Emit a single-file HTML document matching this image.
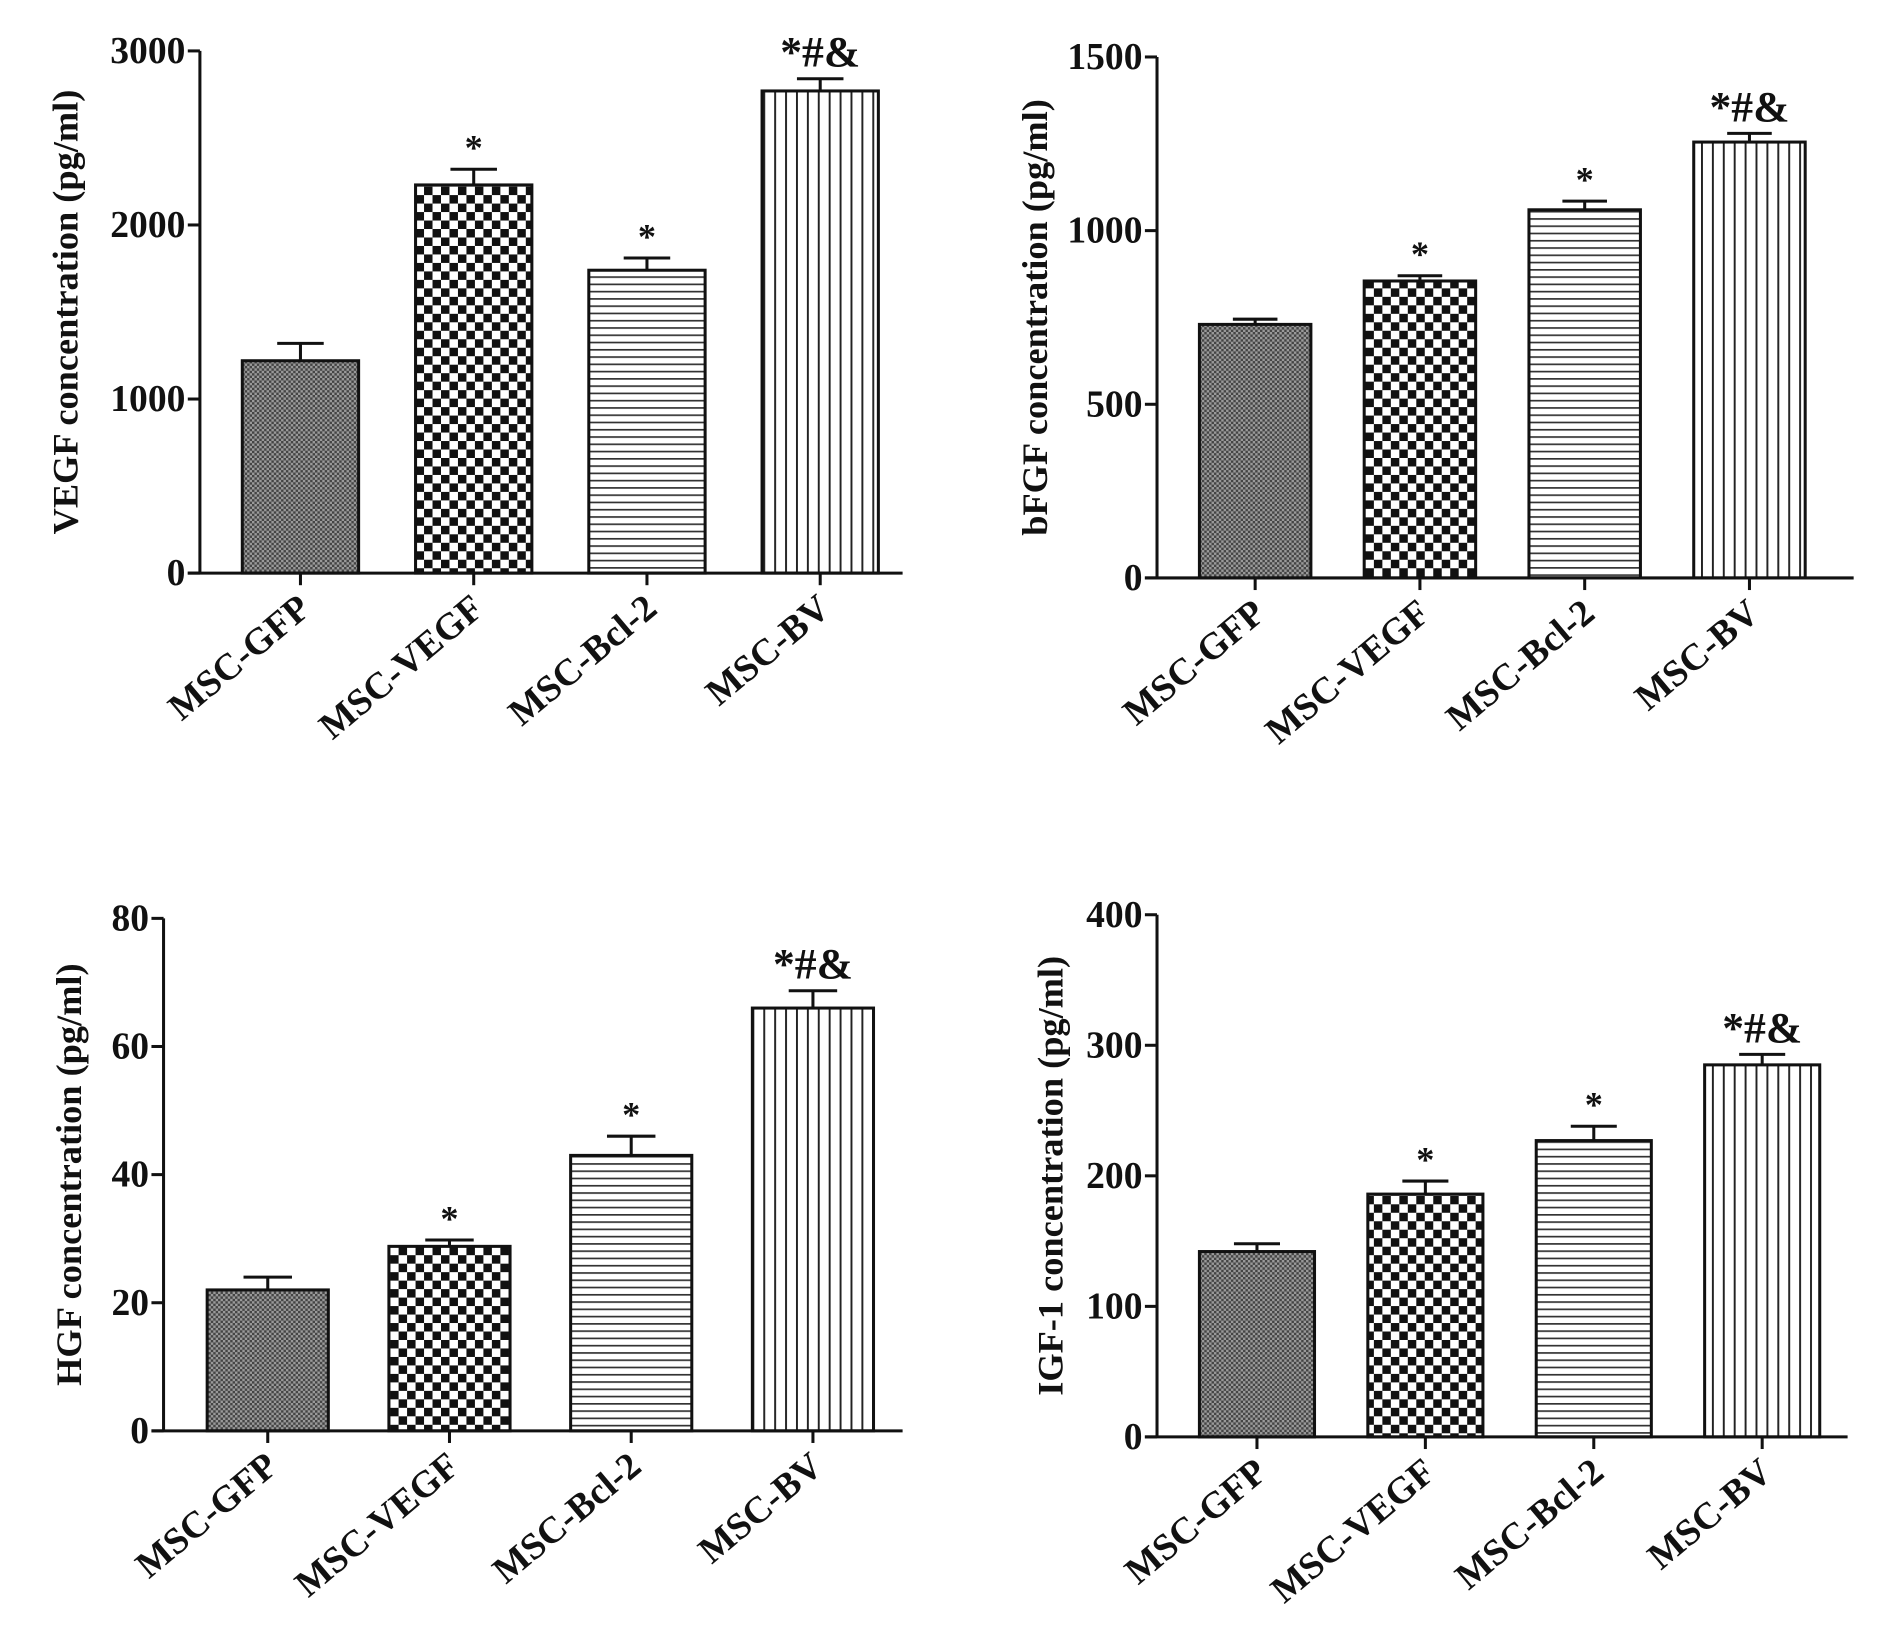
<!DOCTYPE html>
<html><head><meta charset="utf-8"><style>
html,body{margin:0;padding:0;background:#fff;}
svg{display:block;}
text{font-family:"Liberation Serif","DejaVu Serif",serif;font-weight:bold;fill:#111;}
</style></head><body>
<svg id="fig" width="1890" height="1632" viewBox="0 0 1560 1347" xmlns="http://www.w3.org/2000/svg">
<defs>
<pattern id="pGfp" width="4" height="4" patternUnits="userSpaceOnUse"><rect width="4" height="4" fill="#9a9a9a"/><rect width="2" height="2" fill="#444"/><rect x="2" y="2" width="2" height="2" fill="#444"/></pattern>
<pattern id="pVegf" width="14" height="14" patternUnits="userSpaceOnUse"><rect width="14" height="14" fill="#fff"/><rect width="7" height="7" fill="#111"/><rect x="7" y="7" width="7" height="7" fill="#111"/></pattern>
<pattern id="pBcl" width="6" height="6" patternUnits="userSpaceOnUse"><rect width="6" height="6" fill="#fff"/><rect y="0" width="6" height="1.4" fill="#333"/></pattern>
<pattern id="pBv" width="9" height="9" patternUnits="userSpaceOnUse"><rect width="9" height="9" fill="#fff"/><rect x="0" width="1.6" height="9" fill="#222"/></pattern>
</defs>
</svg>
<script>
const categories = ["MSC-GFP","MSC-VEGF","MSC-Bcl-2","MSC-BV"];
const vegfValues = [1220, 2230, 1740, 2770];
const vegfErrors = [100, 90, 70, 70];
const bfgfValues = [730, 855, 1060, 1255];
const bfgfErrors = [15, 15, 25, 25];
const hgfValues = [22, 28.8, 43, 66];
const hgfErrors = [2, 1, 3, 2.7];
const igfValues = [142, 186, 227, 285];
const igfErrors = [6, 10, 11, 8];
const vegfTicks = [0, 1000, 2000, 3000];
const bfgfTicks = [0, 500, 1000, 1500];
const hgfTicks = [0, 20, 40, 60, 80];
const igfTicks = [0, 100, 200, 300, 400];
const sigLabels = ["", "*", "*", "*#&"];
const sigLabelsV = ["", "*", "*", "*#&"];

const NS = "http://www.w3.org/2000/svg";
const svg = document.getElementById("fig");
const fills = ["url(#pGfp)","url(#pVegf)","url(#pBcl)","url(#pBv)"];
function el(tag, attrs, parent){const e=document.createElementNS(NS,tag);for(const k in attrs)e.setAttribute(k,attrs[k]);(parent||svg).appendChild(e);return e;}

function panel(key, title, values, errors, ticks, sigs, L){
  const g = el("g",{});
  
  
  const max = ticks[ticks.length-1];
  const y = v => L.y0 - (v/max)*(L.y0-L.yTop);
  const bx = i => L.bar0 + i*L.step;
  values.forEach((v,i)=>{
    const r = el("rect",{x:bx(i),y:y(v),width:L.bw,height:L.y0-y(v),fill:fills[i],stroke:"#111","stroke-width":2.5},g);
    
    
    const cx = bx(i)+L.bw/2;
    const e = el("path",{d:`M${cx} ${y(v)} V${y(v+errors[i])} M${cx-L.bw*0.2} ${y(v+errors[i])} H${cx+L.bw*0.2}`,stroke:"#111","stroke-width":2.5,fill:"none"},g);
    
    
    if(sigs[i]){
      const t = el("text",{x:cx,y:y(v+errors[i])-(sigs[i].length>1?10:8),"text-anchor":"middle","font-size":sigs[i].length>1?36:30},g);
      t.textContent = sigs[i];
      
      
    }
    el("line",{x1:cx,x2:cx,y1:L.y0,y2:L.y0+10,stroke:"#111","stroke-width":2.5},g);
    const lx = cx+10, ly = L.y0+32;
    const xt = el("text",{x:lx,y:ly,"text-anchor":"end","font-size":31,transform:`rotate(-40 ${lx} ${ly})`},g);
    xt.textContent = categories[i];
    
    
  });
  const ax = el("path",{d:`M${L.ax} ${L.yTop} V${L.y0} M${L.ax-10} ${L.y0} H${L.xEnd}`,stroke:"#111","stroke-width":2.5,fill:"none"},g);
  
  
  ticks.forEach(t=>{
    el("line",{x1:L.ax-10,x2:L.ax,y1:y(t),y2:y(t),stroke:"#111","stroke-width":2.5},g);
    const tl = el("text",{x:L.ax-12,y:y(t)+10,"text-anchor":"end","font-size":31},g);
    tl.textContent = t;
    
    
  });
  const my = (L.yTop+L.y0)/2;
  const yt = el("text",{x:L.ylx,y:my,"text-anchor":"middle","font-size":30,transform:`rotate(-90 ${L.ylx} ${my})`},g);
  yt.textContent = title;
  
  
}

panel("vegf","VEGF concentration (pg/ml)",vegfValues,vegfErrors,vegfTicks,sigLabels,
  {ax:165,yTop:42,y0:473,xEnd:745,bar0:200,step:143,bw:96,ylx:64});
panel("bfgf","bFGF concentration (pg/ml)",bfgfValues,bfgfErrors,bfgfTicks,sigLabels,
  {ax:955,yTop:47,y0:477,xEnd:1530,bar0:990,step:136,bw:92,ylx:864});
panel("hgf","HGF concentration (pg/ml)",hgfValues,hgfErrors,hgfTicks,sigLabelsV,
  {ax:135,yTop:758,y0:1181,xEnd:745,bar0:171,step:150,bw:100,ylx:67});
panel("igf","IGF-1 concentration (pg/ml)",igfValues,igfErrors,igfTicks,sigLabelsV,
  {ax:955,yTop:755,y0:1186,xEnd:1525,bar0:990,step:139,bw:95,ylx:877});
</script>
</body></html>
